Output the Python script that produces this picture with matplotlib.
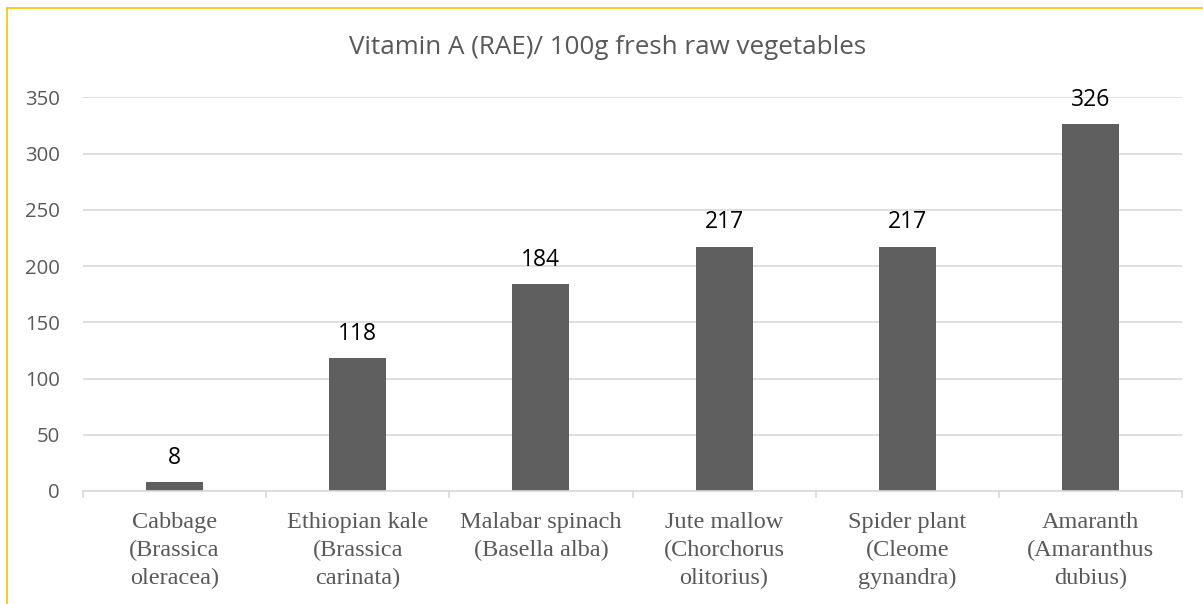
import numpy as np
import matplotlib
matplotlib.use("Agg")
import matplotlib.pyplot as plt
from matplotlib.lines import Line2D
from matplotlib.ticker import MultipleLocator, FixedLocator

# ================= DATA =================
CATEGORIES = [
    "Cabbage\n(Brassica\noleracea)",
    "Ethiopian kale\n(Brassica\ncarinata)",
    "Malabar spinach\n(Basella alba)",
    "Jute mallow\n(Chorchorus\nolitorius)",
    "Spider plant\n(Cleome\ngynandra)",
    "Amaranth\n(Amaranthus\ndubius)",
]
VITAMIN_A = [8, 118, 184, 217, 217, 326]
TITLE = "Vitamin A (RAE)/ 100g fresh raw vegetables"

# ================= STYLE =================
BAR_COLOR = "#5f5f5f"
GRID_COLOR = "#d9d9d9"
TEXT_GRAY = "#595959"
BORDER = "#ffc000"

W, H = 1203, 604
fig = plt.figure(figsize=(W / 100, H / 100), dpi=100)
ax = fig.add_axes([83 / W, 1 - 491 / H, (1182 - 83) / W, (491 - 97.3) / H])

x = np.arange(len(CATEGORIES))
bars = ax.bar(x, VITAMIN_A, width=0.311, color=BAR_COLOR, zorder=3)
ax.bar_label(bars, labels=[str(v) for v in VITAMIN_A], padding=9,
             fontsize=16.5, family="Open Sans", color="black")

ax.set_xlim(-0.5, len(CATEGORIES) - 0.5)
ax.set_ylim(0, 350)
ax.yaxis.set_major_locator(MultipleLocator(50))
ax.grid(axis="y", color=GRID_COLOR, linewidth=1.2, zorder=0)

ax.set_xticks(x)
ax.set_xticklabels(CATEGORIES, family="Liberation Serif", fontsize=17.5,
                   color=TEXT_GRAY, linespacing=1.42)
ax.xaxis.set_minor_locator(FixedLocator(np.arange(-0.5, len(CATEGORIES), 1.0)))
ax.tick_params(axis="x", which="major", length=0, pad=15)
ax.tick_params(axis="x", which="minor", length=5, width=1.2, color=GRID_COLOR)
ax.tick_params(axis="y", length=0, pad=16.5, labelsize=14.7, labelcolor=TEXT_GRAY)
for lab in ax.get_yticklabels():
    lab.set_family("Open Sans")

for side in ["top", "right", "left"]:
    ax.spines[side].set_visible(False)
ax.spines["bottom"].set_color(GRID_COLOR)
ax.spines["bottom"].set_linewidth(1.2)
ax.spines["bottom"].set_zorder(4)

fig.text(608 / W, 1 - 47 / H, TITLE, ha="center", va="center",
         fontsize=18.7, family="Open Sans", color=TEXT_GRAY)

# chart frame (top and left edges visible)
fig.add_artist(Line2D([7 / W, 1], [1 - 8 / H, 1 - 8 / H], color=BORDER, lw=1.2))
fig.add_artist(Line2D([7 / W, 7 / W], [0, 1 - 8 / H], color=BORDER, lw=1.2))

fig.savefig("out.png", dpi=100)
